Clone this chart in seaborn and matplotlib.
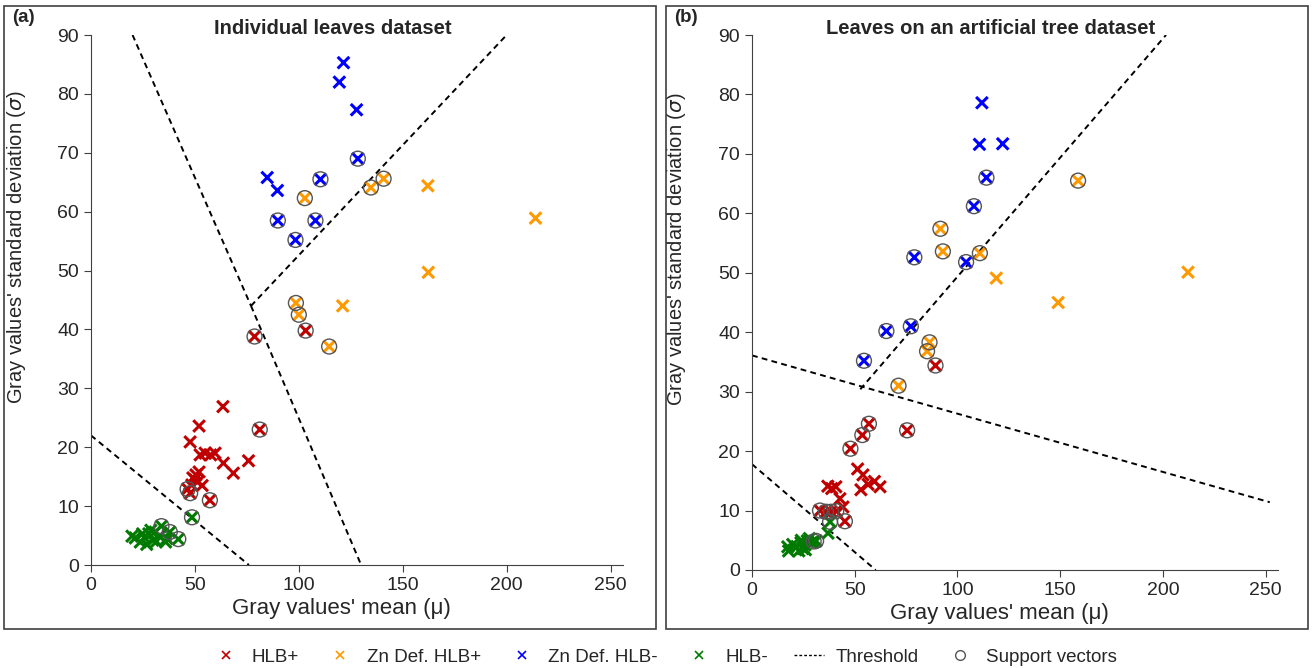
import pandas as pd
import seaborn as sns
import matplotlib.pyplot as plt
from matplotlib.lines import Line2D
from matplotlib.patches import Rectangle

sns.set_style('ticks')
plt.rcParams['font.family'] = ['Liberation Sans', 'DejaVu Sans']
plt.rcParams['font.size'] = 13

classes = ['HLB+', 'Zn Def. HLB+', 'Zn Def. HLB-', 'HLB-']
palette = {'HLB+': '#C00000', 'Zn Def. HLB+': '#FF9900', 'Zn Def. HLB-': '#0000FF', 'HLB-': '#007A00'}

# (a) individual leaves
a_mean = [78.7, 103.3, 81.2, 63.5, 52.0, 47.7, 52.5, 54.9, 57.6, 59.7, 63.7, 75.8, 68.5,
          49.0, 50.5, 52.0, 51.5, 53.5, 48.5, 50.0, 46.5, 47.7, 57.2,
          102.9, 134.7, 140.8, 162.1, 213.9, 162.3, 121.1, 98.6, 100.0, 114.6,
          121.5, 119.5, 127.8, 128.4, 84.8, 110.4, 89.7, 89.9, 108.0, 98.4,
          48.6, 33.9, 37.9, 42.0, 21.3, 24.8, 26.8, 28.8, 29.8, 32.9, 35.9, 25.8, 23.7, 27.8,
          30.8, 19.7, 36.5, 31.5]
a_std = [38.8, 39.8, 23.0, 26.9, 23.6, 20.9, 18.7, 19.0, 18.7, 19.0, 17.3, 17.7, 15.6,
         14.8, 15.3, 15.8, 14.2, 13.5, 13.6, 14.5, 12.9, 12.2, 11.0,
         62.3, 64.1, 65.6, 64.4, 58.9, 49.7, 44.0, 44.5, 42.5, 37.1,
         85.3, 82.0, 77.3, 69.0, 65.8, 65.5, 63.6, 58.5, 58.5, 55.2,
         8.1, 6.6, 5.6, 4.4, 4.6, 5.3, 3.5, 5.9, 4.2, 4.9, 3.9, 4.6, 3.9, 5.3,
         5.6, 4.9, 4.5, 4.0]
a_class = ['HLB+'] * 23 + ['Zn Def. HLB+'] * 10 + ['Zn Def. HLB-'] * 10 + ['HLB-'] * 18
a_sv = [1, 1, 1, 0, 0, 0, 0, 0, 0, 0, 0, 0, 0, 0, 0, 0, 0, 0, 0, 0, 1, 1, 1,
        1, 1, 1, 0, 0, 0, 0, 1, 1, 1,
        0, 0, 0, 1, 0, 1, 0, 1, 1, 1,
        1, 1, 1, 1, 0, 0, 0, 0, 0, 0, 0, 0, 0, 0, 0, 0, 0, 0]

# (b) leaves on an artificial tree
b_mean = [89.3, 56.9, 53.7, 75.5, 47.9, 51.4, 54.0, 59.6, 62.3, 56.5, 53.0, 36.9, 38.8,
          40.8, 42.8, 44.3, 45.2, 33.1, 36.0, 38.5, 41.0,
          158.7, 91.7, 92.9, 110.9, 118.9, 149.0, 212.2, 86.4, 85.2, 71.3,
          111.9, 110.7, 122.0, 114.1, 108.0, 79.0, 104.2, 77.3, 65.4, 54.5,
          38.0, 37.0, 31.2, 30.0, 17.8, 17.4, 19.8, 21.8, 23.8, 24.8, 26.9, 27.9, 22.8,
          25.8, 28.9, 24.0, 26.0]
b_std = [34.4, 24.6, 22.7, 23.5, 20.4, 17.0, 16.0, 14.9, 14.0, 14.4, 13.5, 14.1, 13.7,
         14.0, 12.0, 10.6, 8.2, 10.0, 9.8, 9.8, 9.9,
         65.5, 57.4, 53.6, 53.3, 49.1, 45.0, 50.1, 38.3, 36.8, 31.0,
         78.6, 71.6, 71.7, 66.0, 61.2, 52.6, 51.8, 41.0, 40.2, 35.2,
         8.1, 6.2, 4.9, 4.8, 3.2, 3.9, 4.3, 3.9, 4.6, 3.6, 4.9, 5.3, 3.2,
         4.2, 4.6, 5.0, 3.4]
b_class = ['HLB+'] * 21 + ['Zn Def. HLB+'] * 10 + ['Zn Def. HLB-'] * 10 + ['HLB-'] * 17
b_sv = [1, 1, 1, 1, 1, 0, 0, 0, 0, 0, 0, 0, 0, 0, 0, 0, 1, 1, 1, 1, 1,
        1, 1, 1, 1, 0, 0, 0, 1, 1, 1,
        0, 0, 0, 1, 1, 1, 1, 1, 1, 1,
        1, 0, 1, 1, 0, 0, 0, 0, 0, 0, 0, 0, 0, 0, 0, 0, 0]

# threshold segments: (x0, x1), (y0, y1)
a_thresh = [((20, 77), (90, 44)), ((77, 130), (44, 0)), ((77, 200), (44, 90)), ((0, 76), (22, 0))]
b_thresh = [((52.7, 201.5), (30.4, 90)), ((0, 252), (36.1, 11.4)), ((0, 60.2), (17.8, 0))]

panels = [
    ('(a)', 'Individual leaves dataset', a_mean, a_std, a_class, a_sv, a_thresh,
     [91 / 1312, 103 / 668, 532 / 1312, 530 / 668], 333),
    ('(b)', 'Leaves on an artificial tree dataset', b_mean, b_std, b_class, b_sv, b_thresh,
     [752 / 1312, 98 / 668, 526 / 1312, 535 / 668], 991),
]

fig = plt.figure(figsize=(13.12, 6.68), dpi=100)

for i, (tag, title, mean, std, cls, sv, thresh, rect, tx) in enumerate(panels):
    df = pd.DataFrame({'mean': mean, 'std': std, 'cls': cls, 'sv': sv})
    ax = fig.add_axes(rect)
    for (xs, ys) in thresh:
        ax.plot(xs, ys, color='black', lw=1.4, dashes=(3, 2.2))
    sns.scatterplot(data=df, x='mean', y='std', hue='cls', hue_order=classes, palette=palette,
                    marker='x', s=70, linewidth=2.2, legend=False, ax=ax, zorder=3)
    sns.scatterplot(data=df[df['sv'] == 1], x='mean', y='std', marker='o', s=115,
                    facecolors='none', edgecolor='#555555', linewidth=1.0, legend=False, ax=ax, zorder=4)
    ax.set_xlim(0, 256)
    ax.set_ylim(0, 90)
    ax.set_xticks([0, 50, 100, 150, 200, 250])
    ax.set_yticks(range(0, 91, 10))
    ax.tick_params(labelsize=14, length=5, width=0.8, color='#404040')
    for sp in ['left', 'bottom']:
        ax.spines[sp].set_color('#404040')
    sns.despine(ax=ax)
    ax.set_xlabel("Gray values' mean (\u03bc)", fontsize=16)
    ax.set_ylabel("Gray values' standard deviation ($\\sigma$)", fontsize=14.5)
    ax.yaxis.set_label_coords(-0.118 if i == 0 else -0.122, 0.6)
    ax.xaxis.set_label_coords(0.47, -0.062)
    x0 = 4 if i == 0 else 666
    w = 652 if i == 0 else 642
    fig.patches.append(Rectangle((x0 / 1312, 39 / 668), w / 1312, 623 / 668, transform=fig.transFigure,
                                 fill=False, edgecolor='#404040', linewidth=1.2))
    fig.text((x0 + 8) / 1312, 650 / 668, tag, fontsize=13.5, fontweight='bold', ha='left', va='center')
    fig.text(tx / 1312, 640 / 668, title, fontsize=14.5, fontweight='bold', ha='center', va='center')

handles = [Line2D([], [], marker='x', ls='none', color=palette[c], markersize=6, markeredgewidth=1.2) for c in classes]
handles.append(Line2D([], [], color='black', lw=1, dashes=(2, 1.5)))
handles.append(Line2D([], [], marker='o', ls='none', markerfacecolor='none', markeredgecolor='#555555', markersize=7))
labels = classes + ['Threshold', 'Support vectors']
fig.legend(handles, labels, loc='center', bbox_to_anchor=(0.506, 11 / 668), ncol=6, frameon=False,
           fontsize=13.5, handlelength=1.6, columnspacing=1.4, handletextpad=0.6)

fig.savefig('out.png', dpi=100)
